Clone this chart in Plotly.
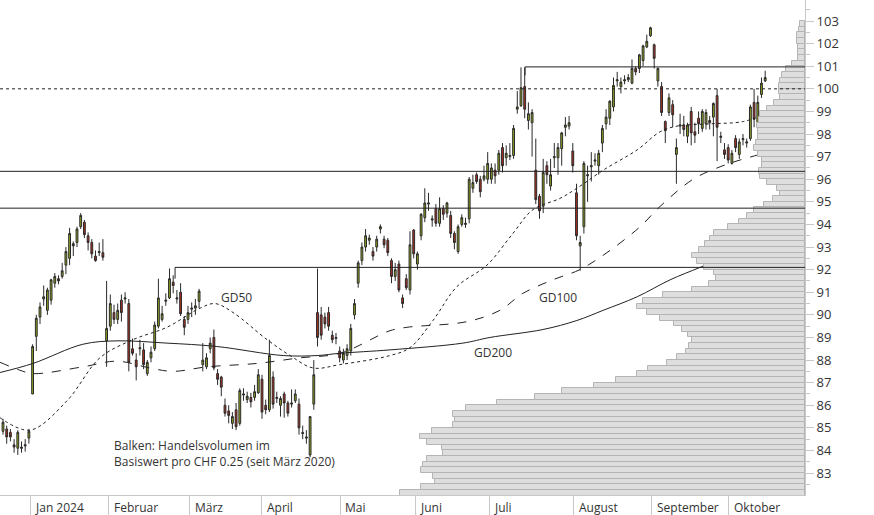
import plotly.graph_objects as go

# daily candles (open, high, low, close), Dec 2023 - Oct 2024
opens = [84.85, 84.95, 84.8, 84.25, 84.1, 84.15, 84.2, 84.55, 86.5, 89.05,
         89.9, 90.7, 90.2, 90.65, 91.4, 91.6, 91.7, 92.2, 92.5, 93.05,
         93.2, 93.9, 94.1, 93.5, 93.2, 92.6, 92.75, 92.75, 88.85, 89.5,
         90.1, 89.8, 90.65, 90.7, 90.5, 88.5, 88.0, 88.5, 88.45, 87.4,
         88.1, 88.5, 89.5, 89.8, 90.6, 90.75, 91.45, 90.7, 91.0, 89.8,
         89.8, 90.25, 90.3, 90.6, 87.8, 87.7, 88.5, 89.0, 87.4, 87.25,
         86.0, 85.75, 85.2, 85.8, 85.2, 86.45, 86.25, 86.35, 86.35, 86.55,
         87.15, 86.0, 85.8, 87.25, 86.3, 86.0, 86.5, 86.1, 86.05, 86.2,
         86.05, 84.8, 84.6, 83.8, 86.05, 90.1, 90.0, 89.9, 90.1, 89.1,
         88.95, 88.4, 88.0, 88.2, 88.4, 90.0, 91.4, 92.4, 93.0, 93.3,
         92.8, 93.0, 93.8, 93.35, 93.3, 92.4, 91.7, 92.25, 90.75, 91.6,
         91.1, 93.75, 92.25, 93.5, 94.3, 94.9, 94.25, 94.7, 94.05, 94.7,
         94.5, 94.4, 93.6, 92.8, 94.0, 94.0, 94.25, 95.6, 96.2, 96.0,
         96.0, 96.0, 96.0, 96.4, 96.4, 97.4, 96.95, 97.0, 97.05, 99.1,
         99.25, 100.1, 98.6, 98.5, 96.4, 95.25, 94.8, 96.6, 95.7, 96.95,
         96.95, 97.35, 98.3, 98.35, 97.25, 95.4, 93.05, 93.9, 96.15, 96.55,
         96.8, 96.6, 97.6, 98.45, 98.7, 99.2, 100.35, 100.1, 100.35, 100.4,
         100.25, 100.9, 100.9, 101.25, 101.85, 102.35, 101.95, 100.35, 100.1, 98.55,
         98.95, 99.3, 97.1, 98.35, 98.4, 97.9, 99.0, 98.1, 98.7, 98.25,
         98.45, 98.6, 98.75, 99.7, 97.85, 97.3, 97.4, 96.7, 97.8, 97.1,
         97.75, 97.6, 97.8, 99.4, 98.5, 99.75, 100.35]
closes = [85.25, 84.6, 84.6, 84.15, 84.8, 84.1, 84.25, 84.85, 88.6, 89.85,
          90.35, 90.8, 91.1, 91.55, 91.7, 91.5, 91.95, 92.8, 93.6, 93.15,
          93.8, 94.4, 93.55, 93.2, 92.7, 92.4, 92.8, 92.55, 89.4, 90.5,
          89.8, 90.2, 90.1, 90.75, 87.9, 88.3, 87.7, 88.55, 87.8, 87.9,
          88.35, 89.55, 90.75, 90.05, 90.65, 91.6, 91.3, 90.75, 90.05, 89.45,
          90.1, 90.3, 90.4, 91.05, 88.0, 88.1, 88.75, 87.65, 87.15, 86.8,
          85.65, 85.55, 85.5, 85.05, 86.65, 86.5, 86.4, 86.15, 86.6, 87.35,
          85.7, 85.8, 88.2, 86.05, 86.35, 86.3, 86.1, 85.65, 86.1, 86.5,
          85.0, 84.75, 84.55, 85.5, 87.35, 89.0, 89.1, 89.6, 89.5, 88.9,
          89.0, 88.1, 88.3, 88.5, 89.4, 90.5, 92.3, 93.0, 93.5, 93.4,
          92.6, 93.35, 93.9, 93.1, 92.75, 91.7, 92.0, 91.1, 90.5, 91.2,
          93.1, 92.7, 92.7, 94.45, 94.95, 94.95, 94.2, 94.05, 94.7, 94.45,
          94.95, 93.6, 93.2, 93.9, 94.3, 94.05, 96.0, 95.85, 95.9, 95.45,
          96.15, 96.7, 96.5, 96.15, 97.15, 96.6, 97.15, 97.05, 98.25, 99.2,
          100.05, 99.1, 98.9, 98.95, 95.1, 94.6, 96.3, 96.2, 96.2, 97.0,
          97.4, 98.05, 98.4, 98.5, 96.6, 93.5, 93.2, 96.7, 96.2, 96.6,
          96.85, 97.15, 98.25, 98.75, 99.45, 100.15, 100.4, 100.3, 100.4, 100.5,
          100.9, 100.75, 101.5, 101.9, 102.1, 102.7, 101.35, 100.9, 98.95, 98.15,
          99.6, 98.85, 97.4, 98.4, 98.2, 98.4, 98.05, 97.95, 98.45, 99.0,
          98.95, 98.5, 99.35, 98.3, 97.9, 97.1, 96.85, 97.15, 97.4, 97.65,
          97.8, 97.65, 99.2, 98.65, 99.4, 100.25, 100.5]
highs = [85.4, 85.1, 84.95, 84.5, 84.9, 84.4, 84.5, 84.95, 88.7, 90.0,
         90.55, 91.3, 91.2, 91.6, 91.85, 91.75, 92.3, 93.0, 93.85, 93.25,
         93.9, 94.5, 94.2, 93.65, 93.35, 92.85, 93.2, 93.35, 91.5, 90.9,
         90.45, 90.5, 90.9, 91.0, 90.7, 88.95, 88.3, 88.9, 88.75, 88.0,
         88.6, 89.7, 91.6, 90.4, 90.95, 92.05, 91.75, 91.1, 91.4, 89.95,
         90.4, 90.55, 90.7, 91.15, 88.75, 88.3, 89.0, 89.35, 87.6, 87.3,
         86.3, 86.0, 85.7, 86.1, 86.75, 86.75, 86.6, 86.55, 86.9, 87.6,
         87.35, 86.25, 88.9, 87.5, 86.6, 86.4, 86.6, 86.2, 86.7, 86.7,
         86.3, 85.1, 84.9, 85.5, 88.0, 92.05, 90.35, 90.1, 90.35, 89.3,
         89.2, 88.6, 88.5, 88.7, 89.6, 90.7, 92.4, 93.2, 93.8, 93.55,
         93.0, 93.5, 94.0, 93.5, 93.4, 92.5, 92.3, 92.4, 90.9, 91.8,
         93.7, 93.8, 92.8, 94.5, 95.6, 95.4, 94.4, 94.9, 95.2, 94.85,
         95.0, 94.6, 93.7, 94.0, 94.45, 94.3, 96.1, 96.2, 96.3, 96.15,
         96.6, 97.2, 96.7, 96.7, 97.3, 97.6, 97.5, 97.6, 98.4, 99.9,
         100.95, 100.95, 99.4, 99.1, 97.8, 95.35, 96.9, 96.8, 96.9, 97.6,
         97.6, 98.1, 98.75, 98.8, 97.6, 95.8, 93.5, 96.8, 96.6, 97.2,
         97.15, 97.3, 98.4, 99.1, 99.5, 100.5, 100.75, 100.5, 100.6, 100.65,
         101.3, 101.0, 101.55, 101.95, 102.4, 102.75, 102.0, 100.95, 100.3, 98.6,
         99.8, 99.5, 97.8, 98.9, 98.8, 98.5, 99.2, 98.5, 99.0, 99.1,
         99.1, 98.8, 99.4, 100.0, 98.1, 97.6, 97.55, 97.3, 97.95, 97.8,
         98.0, 97.8, 99.3, 100.0, 99.7, 100.5, 100.8]
lows = [84.7, 84.3, 84.4, 83.9, 83.8, 83.9, 83.95, 84.3, 86.5, 88.4,
        89.6, 90.4, 90.0, 90.45, 91.2, 91.35, 91.6, 91.8, 92.2, 92.6,
        93.0, 93.8, 93.4, 92.85, 92.5, 92.35, 92.6, 92.4, 87.7, 89.3,
        89.6, 89.6, 89.7, 90.5, 87.5, 88.2, 87.1, 88.2, 87.6, 87.3,
        87.9, 88.4, 89.4, 89.7, 90.4, 90.7, 90.95, 90.5, 89.95, 89.1,
        89.6, 89.9, 90.0, 90.3, 87.5, 87.6, 88.3, 87.55, 86.9, 86.4,
        85.5, 85.2, 84.95, 84.9, 85.1, 86.2, 86.1, 85.9, 86.2, 86.5,
        85.4, 85.6, 85.7, 85.85, 86.1, 85.5, 85.45, 85.5, 85.9, 86.1,
        84.7, 84.5, 84.3, 83.7, 85.8, 88.6, 88.9, 89.4, 89.3, 88.75,
        88.7, 87.9, 87.85, 88.0, 88.2, 89.8, 91.2, 92.2, 92.8, 93.1,
        92.4, 92.8, 93.6, 92.95, 92.6, 91.4, 91.5, 91.0, 90.3, 91.1,
        90.9, 92.5, 92.0, 93.3, 94.1, 94.6, 93.9, 93.9, 93.9, 94.2,
        94.3, 93.4, 92.9, 92.7, 93.9, 93.85, 94.05, 95.4, 95.8, 95.2,
        95.9, 95.8, 95.8, 95.8, 96.2, 96.3, 96.6, 96.85, 96.9, 98.9,
        99.2, 98.7, 98.2, 97.0, 94.9, 94.25, 94.5, 95.8, 95.5, 96.5,
        96.2, 96.6, 97.9, 98.2, 96.3, 93.3, 91.95, 93.6, 95.0, 95.9,
        96.6, 96.2, 97.2, 98.2, 98.4, 99.0, 100.1, 99.8, 100.2, 100.3,
        100.2, 100.6, 100.7, 101.0, 101.8, 102.3, 100.9, 100.1, 98.8, 97.6,
        98.8, 98.3, 95.8, 98.0, 97.9, 97.6, 97.5, 97.6, 98.0, 98.1,
        98.2, 98.2, 97.9, 96.8, 97.6, 96.9, 96.7, 96.65, 97.2, 96.9,
        97.5, 97.4, 97.7, 98.3, 98.4, 99.6, 100.3]

# moving averages (vertices, candle index / price)
gd50_idx = [-0.8, 7.3, 17.3, 26.2, 35.1, 44.3, 53.3, 57.3, 62.2, 71.4, 77.6, 83.8, 91.1,
            104.6, 110.0, 116.2, 122.7, 130.8, 137.8, 143.2, 150.5, 155.1, 162.2, 171.4, 177.6, 182.2, 191.1, 200.0, 205.4]
gd50_val = [85.45, 84.9, 86.2, 88.1, 88.9, 89.45, 90.3, 90.5, 90.1, 88.9, 88.2, 87.65, 87.8,
            88.2, 88.55, 89.75, 91.25, 92.2, 93.6, 94.65, 95.15, 95.6, 96.4, 97.3, 98.1, 98.35, 98.45, 98.55, 98.85]
gd100_idx = [-0.8, 4.6, 8.1, 21.6, 30.8, 39.7, 45.9, 55.1, 68.6, 80.3, 91.1, 104.6, 109.2,
             125.4, 134.3, 140.5, 148.6, 155.9, 163.2, 172.2, 177.6, 186.5, 193.8, 199.2, 204.6]
gd100_val = [87.9, 87.55, 87.4, 87.7, 87.95, 87.65, 87.5, 87.7, 87.85, 88.1, 88.3, 89.3, 89.45,
             89.7, 90.2, 90.95, 91.55, 92.0, 92.75, 93.9, 94.8, 96.0, 96.55, 96.85, 97.1]
gd200_idx = [-0.8, 8.1, 21.6, 30.8, 44.3, 57.8, 75.7, 84.9, 91.1, 104.6, 124.3, 131.6,
             145.9, 155.1, 162.2, 171.4, 180.3, 188.4, 196.5, 205.9]
gd200_val = [87.45, 87.85, 88.7, 88.85, 88.75, 88.6, 88.2, 88.2, 88.3, 88.45, 88.75, 89.0,
             89.35, 89.75, 90.2, 90.8, 91.55, 92.1, 92.65, 93.25]

# volume profile, 0.25 price bins starting at 82.0
vol_profile = [405, 384, 370, 372, 384, 382, 378, 362, 363, 378, 385, 373, 352, 350, 352, 339,
               308, 270, 243, 211, 189, 168, 157, 138, 128, 119, 116, 113, 117, 123, 131, 145,
               158, 168, 162, 142, 113, 96, 89, 91, 101, 108, 113, 106, 100, 95, 91, 77,
               66, 58, 51, 41, 32, 25, 28, 38, 45, 46, 43, 43, 47, 51, 49, 47,
               47, 48, 46, 45, 38, 31, 25, 26, 26, 25, 23, 19, 13, 7, 7, 7,
               8, 8, 6, 5]
bin_lows = [82.0 + 0.25 * i for i in range(len(vol_profile))]

months = ["Jan 2024", "Februar", "März", "April", "Mai", "Juni", "Juli", "August", "September", "Oktober"]
month_pos = [7.3, 28.6, 50.5, 70.0, 91.1, 111.4, 131.4, 154.3, 175.4, 196.2]

levels = [100.0, 96.35, 94.72, 92.1, 100.97]

X_RANGE = [-0.81, 216.76]
FONT = "Open Sans, Noto Sans, sans-serif"

fig = go.Figure()

fig.add_trace(go.Bar(
    y=[b + 0.125 for b in bin_lows], x=vol_profile, orientation="h", width=0.25,
    marker=dict(color="#dedede", line=dict(color="#b4b4b4", width=1)),
    xaxis="x2", yaxis="y", hoverinfo="skip", showlegend=False))

for xs, ys, dash in [(gd50_idx, gd50_val, "dot"), (gd100_idx, gd100_val, "dash"),
                     (gd200_idx, gd200_val, "solid")]:
    fig.add_trace(go.Scatter(x=xs, y=ys, mode="lines", showlegend=False,
                             line=dict(color="#222", width=1, dash=dash, shape="spline")))

fig.add_trace(go.Candlestick(
    x=list(range(len(opens))), open=opens, high=highs, low=lows, close=closes,
    increasing=dict(fillcolor="#93a51c", line=dict(color="#2a2a2a", width=1)),
    decreasing=dict(fillcolor="#b0301f", line=dict(color="#2a2a2a", width=1)),
    whiskerwidth=0, showlegend=False))

# horizontal level lines
fig.add_shape(type="line", xref="paper", x0=0, x1=1, y0=levels[0], y1=levels[0],
              line=dict(color="#222", width=1, dash="dot"))
for lv in levels[1:3]:
    fig.add_shape(type="line", xref="paper", x0=0, x1=1, y0=lv, y1=lv, line=dict(color="#222", width=1))
fig.add_shape(type="line", x0=46.5, x1=X_RANGE[1], y0=levels[3], y1=levels[3], line=dict(color="#222", width=1))
fig.add_shape(type="line", x0=46.5, x1=46.5, y0=levels[3], y1=91.6, line=dict(color="#222", width=1))
fig.add_shape(type="line", x0=141.1, x1=X_RANGE[1], y0=levels[4], y1=levels[4], line=dict(color="#222", width=1))
fig.add_shape(type="line", x0=141.1, x1=141.1, y0=levels[4], y1=100.6, line=dict(color="#222", width=1))

for txt, x, y in [("GD50", 63.0, 90.75), ("GD100", 150.0, 90.75), ("GD200", 132.5, 88.35)]:
    fig.add_annotation(x=x, y=y, text=txt, showarrow=False, font=dict(size=12, color="#333", family=FONT))

fig.add_annotation(x=29.5, y=84.7, xanchor="left", yanchor="top", align="left", showarrow=False,
                   text="Balken: Handelsvolumen im<br>Basiswert pro CHF 0.25 (seit März 2020)",
                   font=dict(size=12, color="#333", family=FONT))

for m, p in zip(months, month_pos):
    fig.add_annotation(x=p, y=0, yref="paper", yanchor="top", xanchor="left", xshift=3, yshift=-2,
                       text=m, showarrow=False, font=dict(size=12, color="#333", family=FONT))

fig.update_layout(
    width=874, height=515, margin=dict(l=0, r=69, t=0, b=20),
    paper_bgcolor="white", plot_bgcolor="white", showlegend=False, bargap=0,
    xaxis=dict(range=X_RANGE, showgrid=False, zeroline=False, rangeslider=dict(visible=False),
               tickvals=month_pos, ticktext=[""] * len(months), ticks="outside", ticklen=20,
               tickcolor="#c8c8c8", showline=True, linecolor="#c8c8c8"),
    xaxis2=dict(range=[805, 0], overlaying="x", visible=False),
    yaxis=dict(range=[82.03, 103.93], side="right", showgrid=False, zeroline=False,
               tickvals=list(range(83, 104)), ticks="outside", ticklen=8, tickcolor="#c8c8c8",
               showline=True, linecolor="#c8c8c8",
               minor=dict(dtick=0.5, ticks="outside", ticklen=4, tickcolor="#c8c8c8"),
               tickfont=dict(size=13, color="#333", family=FONT)),
)

fig.write_html("out.html", config={"displayModeBar": False},
               post_script="document.body.style.margin='0';document.body.style.overflow='hidden';")
